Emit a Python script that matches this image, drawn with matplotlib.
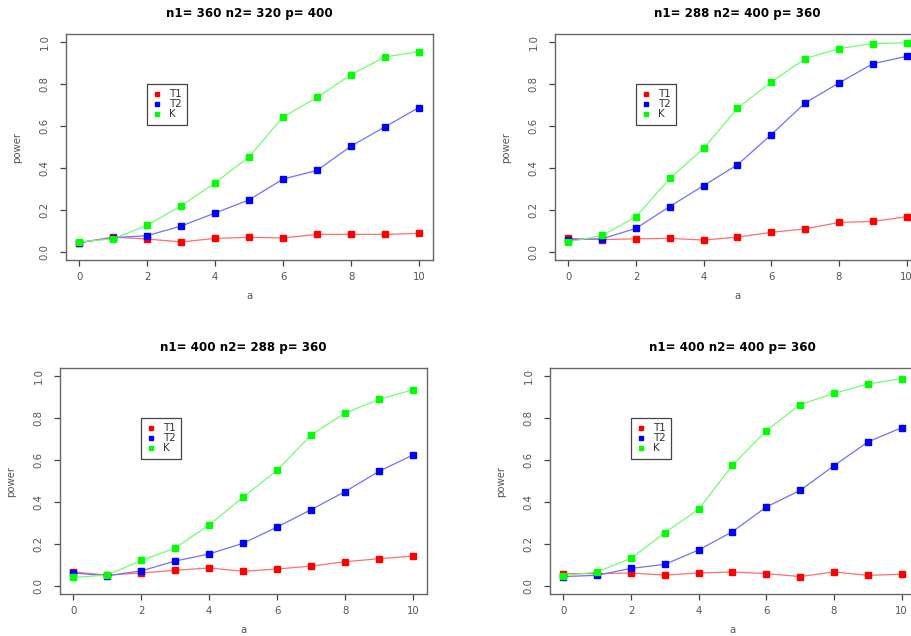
import numpy as np
import matplotlib
matplotlib.use("Agg")
import matplotlib.pyplot as plt
from matplotlib.lines import Line2D

# x values (a) shared by every panel
a = np.arange(0, 11)

titles = ["n1= 360 n2= 320 p= 400", "n1= 288 n2= 400 p= 360",
          "n1= 400 n2= 288 p= 360", "n1= 400 n2= 400 p= 360"]

# power curves, one list per test and panel
t1_p1 = [0.045, 0.071, 0.062, 0.048, 0.065, 0.070, 0.067, 0.084, 0.084, 0.084, 0.089]
t2_p1 = [0.045, 0.068, 0.078, 0.124, 0.186, 0.249, 0.348, 0.389, 0.505, 0.597, 0.689]
k_p1 = [0.048, 0.063, 0.127, 0.221, 0.330, 0.454, 0.644, 0.737, 0.846, 0.930, 0.956]

t1_p2 = [0.065, 0.059, 0.063, 0.065, 0.057, 0.071, 0.094, 0.110, 0.141, 0.146, 0.168]
t2_p2 = [0.059, 0.063, 0.113, 0.217, 0.317, 0.416, 0.560, 0.711, 0.806, 0.898, 0.933]
k_p2 = [0.048, 0.079, 0.168, 0.351, 0.494, 0.686, 0.811, 0.922, 0.970, 0.994, 0.997]

t1_p3 = [0.067, 0.052, 0.062, 0.075, 0.086, 0.070, 0.081, 0.095, 0.116, 0.130, 0.143]
t2_p3 = [0.062, 0.049, 0.072, 0.119, 0.153, 0.204, 0.281, 0.364, 0.450, 0.547, 0.625]
k_p3 = [0.041, 0.052, 0.122, 0.181, 0.291, 0.424, 0.552, 0.720, 0.825, 0.890, 0.936]

t1_p4 = [0.059, 0.059, 0.062, 0.052, 0.062, 0.067, 0.059, 0.045, 0.067, 0.051, 0.056]
t2_p4 = [0.045, 0.051, 0.084, 0.103, 0.172, 0.259, 0.377, 0.456, 0.574, 0.687, 0.755]
k_p4 = [0.049, 0.067, 0.132, 0.254, 0.366, 0.576, 0.741, 0.865, 0.919, 0.963, 0.989]

panels = [(t1_p1, t2_p1, k_p1), (t1_p2, t2_p2, k_p2),
          (t1_p3, t2_p3, k_p3), (t1_p4, t2_p4, k_p4)]
names = ["T1", "T2", "K"]
mark_cols = ["#ff0000", "#0000ff", "#00ff00"]
line_cols = ["#ff7070", "#7070ff", "#70ff70"]

W, H = 912, 636
# axes boxes in pixels: left, top, right, bottom (right panels run off the picture)
boxes = [(65.7, 33.9, 432.6, 260.4), (554.8, 33.9, 920.2, 260.4),
         (59.7, 367.9, 426.6, 594.4), (549.7, 367.9, 915.3, 594.4)]

fig = plt.figure(figsize=(W / 100, H / 100), dpi=100)
grey = "#555555"

for i in range(4):
    l, t, r, b = boxes[i]
    ax = fig.add_axes([l / W, (H - b) / H, (r - l) / W, (b - t) / H])
    for s, name, mc, lc in zip(panels[i], names, mark_cols, line_cols):
        ax.plot(a, s, color=lc, lw=0.9, zorder=2)
        ax.plot(a, s, ls="none", marker="s", ms=4, mfc=mc, mec=mc, zorder=3)
    ax.set_xlim(-0.4, 10.4)
    ax.set_ylim(-0.04, 1.04)
    ax.set_xticks([0, 2, 4, 6, 8, 10])
    ax.set_yticks([0.0, 0.2, 0.4, 0.6, 0.8, 1.0])
    ax.set_yticklabels(["0.0", "0.2", "0.4", "0.6", "0.8", "1.0"], rotation=90, va="center")
    ax.tick_params(axis="both", direction="out", length=4.5, width=0.9, color="#444444",
                   labelsize=7.3, labelcolor=grey)
    ax.tick_params(axis="x", pad=4)
    ax.tick_params(axis="y", pad=7)
    for sp in ax.spines.values():
        sp.set_color("#666666")
        sp.set_linewidth(1.0)
    hgt = b - t
    wid = r - l
    ax.text(0.5, 1 + 20.6 / hgt, titles[i], transform=ax.transAxes, ha="center",
            va="center", fontsize=8.6, fontweight="bold", color="black")
    ax.text(0.5, -36 / hgt, "a", transform=ax.transAxes, ha="center", va="center",
            fontsize=7.3, color=grey)
    ax.text(-49 / wid, 0.5, "power", transform=ax.transAxes, ha="center", va="center",
            rotation=90, fontsize=7.3, color=grey)
    handles = [Line2D([], [], ls="none", marker="s", ms=3.5, mfc=c, mec=c) for c in mark_cols]
    leg = ax.legend(handles, names, loc="upper left", bbox_to_anchor=(2, 0.8),
                    bbox_transform=ax.transData, borderaxespad=0, fontsize=7.4,
                    handlelength=0.9, handletextpad=0.75, borderpad=0.5,
                    labelspacing=0.0, fancybox=False, framealpha=1)
    leg.get_frame().set_edgecolor("#444444")
    leg.get_frame().set_linewidth(0.9)
    for txt in leg.get_texts():
        txt.set_color("#333333")

plt.savefig("out.png", dpi=100)
